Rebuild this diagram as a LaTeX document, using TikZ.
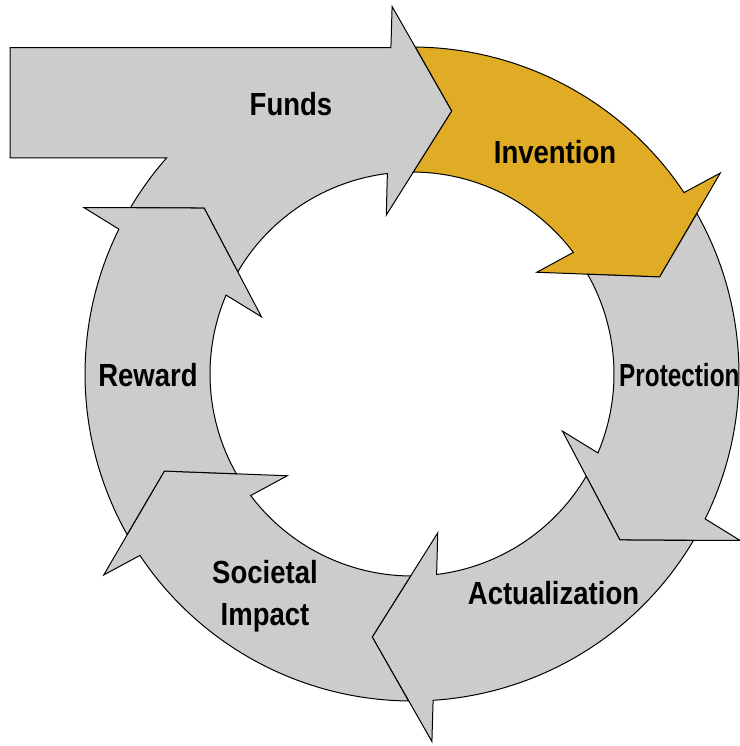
\documentclass[tikz,border=0pt]{standalone}
\usepackage{fontspec}
\newfontfamily\labfont[FakeStretch=0.86]{Liberation Sans}
\newfontfamily\labfontnarrow[FakeStretch=0.76]{Liberation Sans}
\definecolor{arrowgray}{RGB}{204,204,204}
\definecolor{arrowgold}{RGB}{224,172,38}
\tikzset{
  ringarrow/.style={draw=black, line width=1pt, line join=miter, fill=arrowgray},
  goldarrow/.style={ringarrow, fill=arrowgold},
  lab/.style={font=\labfont\bfseries\fontsize{32}{42}\selectfont, inner sep=0pt, anchor=base, align=center},
}
% #1 = polar angle of the tip, #2 = style
\newcommand\cyclearrow[2]{%
  \draw[#2] ([shift={(#1+68:327)}]C)
    arc[start angle=#1+68, end angle=#1+12.3, radius=327]
    -- ([shift={(#1+11.7:368)}]C)
    -- ([shift={(#1:266)}]C)
    -- ([shift={(#1+17.8:161)}]C)
    -- ([shift={(#1+15.6:202)}]C)
    arc[start angle=#1+15.6, end angle=#1+68.2, radius=202]
    -- ([shift={(#1+60:266)}]C) -- cycle;}
\begin{document}
\begin{tikzpicture}[x=1pt,y=1pt]
\useasboundingbox (0,0) rectangle (739,-746);
\coordinate (C) at (412,-374);
% Funds (with the horizontal inflow bar)
\draw[ringarrow] ([shift={(149.4:327)}]C)
   arc[start angle=149.4, end angle=138.65, radius=327]
   -- (10,-158) |- ([shift={(93.7:327)}]C)
   -- ([shift={(93.1:368)}]C)
   -- ([shift={(81.4:266)}]C)
   -- ([shift={(99.2:161)}]C)
   -- ([shift={(97.0:202)}]C)
   arc[start angle=97.0, end angle=149.6, radius=202]
   -- ([shift={(141.4:266)}]C) -- cycle;
\cyclearrow{21.4}{goldarrow}    % Invention
\cyclearrow{-38.6}{ringarrow}   % Protection
\cyclearrow{-98.6}{ringarrow}   % Actualization
\cyclearrow{-158.6}{ringarrow}  % Societal Impact
\cyclearrow{141.4}{ringarrow}   % Reward
% labels
\node[lab] (funds) at (291,-116) {Funds};
\node[lab] (invention) at (555,-163.5) {Invention};
\node[lab, anchor=base west, font=\labfontnarrow\bfseries\fontsize{32}{42}\selectfont] (protection) at (619,-386) {Protection};
\node[lab] (actualization) at (553.5,-604.5) {Actualization};
\node[lab] (societal) at (265,-625) {Societal\\Impact};
\node[lab] (reward) at (148,-386) {Reward};
\end{tikzpicture}
\end{document}
